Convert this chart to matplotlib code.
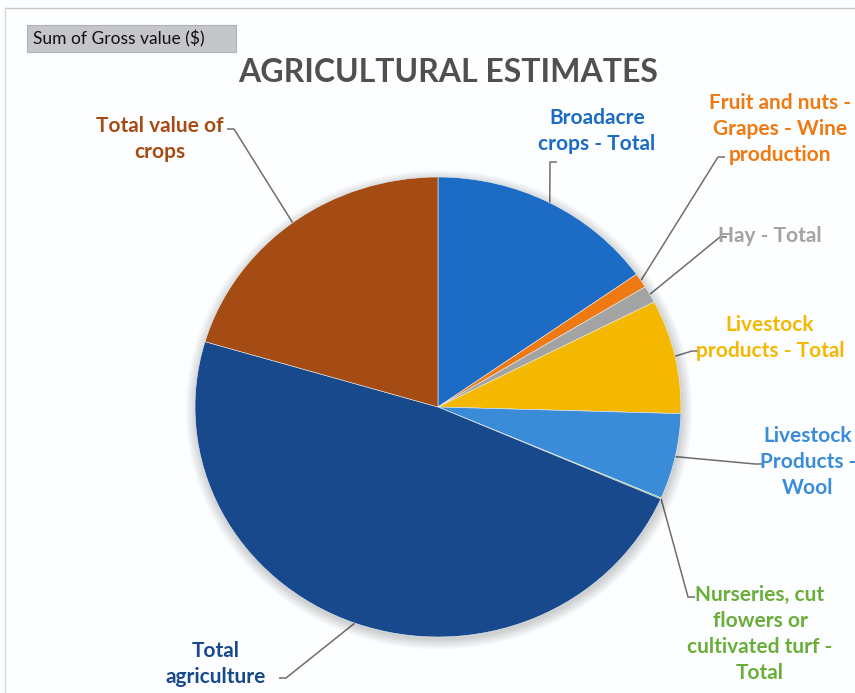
import numpy as np
import matplotlib
matplotlib.use('Agg')
import matplotlib.pyplot as plt
from matplotlib.patches import Rectangle, Ellipse

# gross value by commodity group ($ billion)
categories = [
    'Broadacre\ncrops - Total',
    'Fruit and nuts -\nGrapes - Wine\nproduction',
    'Hay - Total',
    'Livestock\nproducts - Total',
    'Livestock\nProducts -\nWool',
    'Nurseries, cut\nflowers or\ncultivated turf -\nTotal',
    'Total\nagriculture',
    'Total value of\ncrops',
]
values = [7.6, 0.52, 0.6, 4.0, 3.0, 0.04, 24.0, 10.2]
colors = ['#1c6cc6', '#f07a12', '#a3a3a3', '#f5b800',
          '#3a8bd8', '#6aae3a', '#17498c', '#a44c14']

# label text position (pixels from top-left) and leader elbow
label_pos = [
    (597, 131, (550, 162)),
    (780, 129, (718, 157)),
    (770, 236, (720, 237)),
    (770, 338, (692, 351)),
    (808, 462, (755, 464)),
    (760, 634, (688, 597)),
    (216, 664, (286, 678)),
    (160, 139, (234, 129)),
]

W, H = 855, 693
fig = plt.figure(figsize=(W / 100, H / 100), dpi=100)
fig.patch.set_facecolor('#fdfeff')

# overlay in pixel coordinates for text and leader lines
ov = fig.add_axes([0, 0, 1, 1])
ov.set_xlim(0, W)
ov.set_ylim(H, 0)
ov.axis('off')

cx, cy, rx, ry = 438, 407, 243, 230
pie_ax = fig.add_axes([(cx - rx) / W, (H - cy - ry) / H, 2 * rx / W, 2 * ry / H])

wedges, _ = pie_ax.pie(values, colors=colors, startangle=90, counterclock=False,
                       radius=1, wedgeprops=dict(linewidth=0.4, edgecolor='#e8eef5'))
for w in wedges:
    w.set_zorder(2)

# soft shadow behind the pie
for k in range(8):
    pie_ax.add_patch(Ellipse((0.004, -0.012), 2 + 0.012 * k, 2 + 0.012 * k,
                             color='#000000', alpha=0.022, lw=0, zorder=0,
                             clip_on=False))

pie_ax.set_aspect('auto')
pie_ax.set_xlim(-1, 1)
pie_ax.set_ylim(-1, 1)
pie_ax.axis('off')


def to_overlay(px, py):
    disp = pie_ax.transData.transform((px, py))
    return ov.transData.inverted().transform(disp)


for w, label, col, (tx, ty, elbow) in zip(wedges, categories, colors, label_pos):
    mid = np.deg2rad((w.theta1 + w.theta2) / 2)
    ex, ey = to_overlay(np.cos(mid), np.sin(mid))
    ov.text(tx, ty, label, color=col, ha='center', va='center', fontsize=15,
            fontweight='bold', family='Lato', linespacing=1.38)
    bx, by = elbow
    # short horizontal tick pointing at the label
    dx = 7 if tx > bx else -7
    ov.plot([ex, bx, bx + dx], [ey, by, by], color='#6e6e6e', lw=1.1,
            solid_capstyle='butt')

ov.text(448, 72, 'AGRICULTURAL ESTIMATES', ha='center', va='center',
        fontsize=23, fontweight='bold', family='Lato', color='#505050')

# field button
ov.add_patch(Rectangle((27, 25), 209, 27, facecolor='#c4c6ca', edgecolor='#b0b2b6', lw=0.8))
ov.text(33, 38.5, 'Sum of Gross value ($)', ha='left', va='center',
        fontsize=12.5, family='Lato', color='#111111')

# chart border
ov.plot([5, W], [8, 8], color='#c8c8c8', lw=1)
ov.plot([5, 5], [8, H], color='#d8d8d8', lw=1)

fig.savefig('out.png', dpi=100, facecolor=fig.get_facecolor())
